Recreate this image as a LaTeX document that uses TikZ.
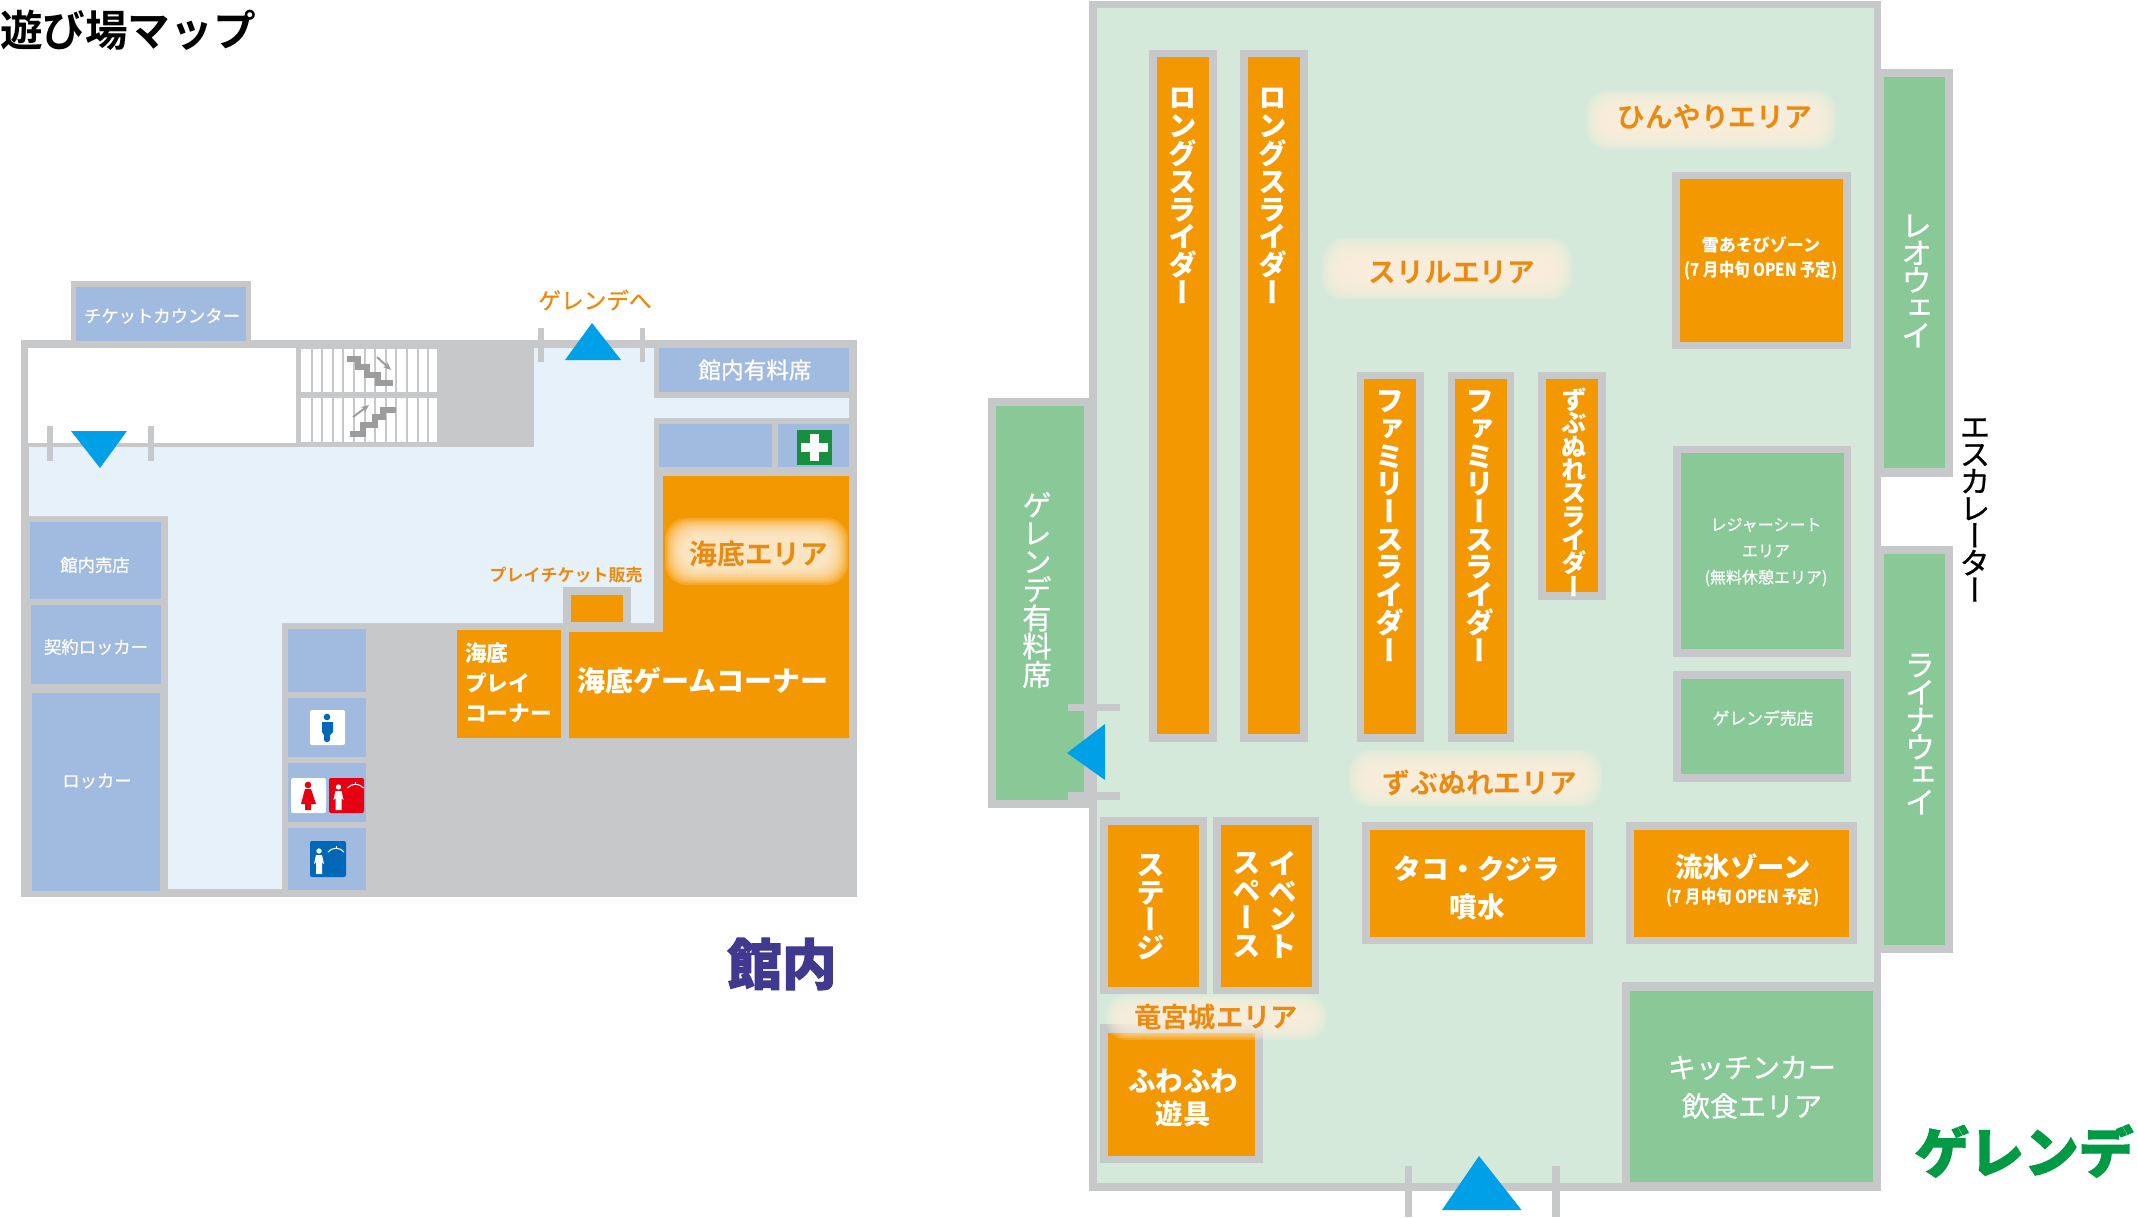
\documentclass[tikz,border=0pt]{standalone}
\usepackage{fontspec}
\newfontfamily\jp[FakeBold=.7]{Noto Sans CJK JP}
\newfontfamily\jpn{Noto Sans CJK JP}
\newfontfamily\jpm{Noto Sans CJK JP Bold}
\newfontfamily\jpv[RawFeature=+vert,FakeBold=.7]{Noto Sans CJK JP}
\newfontfamily\jpvn[RawFeature=+vert]{Noto Sans CJK JP}
\newfontfamily\jph[FakeBold=2]{Noto Sans CJK JP}
\definecolor{wallc}{HTML}{C6C8CA}
\definecolor{floorb}{HTML}{E6F1FA}
\definecolor{floorg}{HTML}{D5E9DA}
\definecolor{roomb}{HTML}{A1BAE0}
\definecolor{roomg}{HTML}{89C997}
\definecolor{orng}{HTML}{F39800}
\definecolor{tri}{HTML}{00A0E9}
\definecolor{lab}{HTML}{EB8A10}
\definecolor{glowc}{HTML}{FFF1DC}
\definecolor{stairc}{HTML}{9C9C9C}
\definecolor{manc}{HTML}{0068B7}
\definecolor{womc}{HTML}{E60012}
\definecolor{crossc}{HTML}{178F3F}
\definecolor{kannai}{HTML}{3F3A8F}
\definecolor{gerende}{HTML}{009944}
\newcommand\fsz[1]{\fontsize{#1}{#1}\selectfont\lineskiplimit=-100pt\relax}
\newcommand\vsz[2]{\fontsize{#1}{#2}\selectfont\lineskiplimit=-100pt\relax}
\tikzset{
  wl/.style={fill=wallc},
  br/.style={fill=roomb},
  gr/.style={fill=roomg},
  og/.style={fill=orng},
  tn/.style={inner sep=0pt,outer sep=0pt,align=center},
  wr/.style={tn,white,font=\jp\fsz{#1}},
  wb/.style={tn,white,font=\jpn\bfseries\fsz{#1}},
  ob/.style={tn,lab,font=\jpm\fsz{#1}},
  or/.style={tn,lab,font=\jp\fsz{#1}},
  vb/.style={tn,white,font=\jpvn\bfseries\vsz{21.5}{#1}},
  tick/.style={fill=wallc},
  arrowhead/.style={fill=tri},
  stairline/.style={draw=stairc,line width=3.8pt,line join=miter},
  stairarrow/.style={draw=stairc,line width=1.5pt,-{Stealth[length=6pt,width=5pt]}},
}
\usetikzlibrary{arrows.meta}
\newcommand\glowbox[4]{%
  \foreach \i in {0,...,11}{%
    \pgfmathsetmacro\ins{\i*1.6}%
    \fill[glowc,opacity=.17,rounded corners=16pt] (#1+\ins,#2+\ins) rectangle (#3-\ins,#4-\ins);%
  }}
\newcommand\persona[2]{% white figure with hanger: centre x, head y
  \fill[white] (#1,#2) circle (2pt);
  \fill[white] (#1-5,#2+13) -- (#1-3,#2+4) -- (#1+3,#2+4) -- (#1+5,#2+13) -- (#1+3,#2+11) -- (#1+3,#2+23) -- (#1-3,#2+23) -- (#1-3,#2+11) -- cycle;
  \draw[white,line width=.8pt] (#1+9,#2+1) .. controls (#1+13,#2-4) and (#1+21,#2-4) .. (#1+25,#2+1);
  \draw[white,line width=.7pt] (#1+17,#2-3) -- (#1+17,#2-5);
}
\begin{document}
\begin{tikzpicture}[x=0.75pt,y=-0.75pt]
\useasboundingbox (0,0) rectangle (2137,1217);
\fill[white] (0,0) rectangle (2137,1217);

% ---------- 館内 ----------
\fill[wl] (21,340) rectangle (857,897);
\fill[wl] (71,281) rectangle (251,340);
\fill[br] (76,287) rectangle (246,341);
\fill[floorb] (29,447) -- (534,447) -- (534,348) -- (654,348) -- (654,398) -- (849,398) -- (849,418) -- (654,418) -- (654,623) -- (282,623) -- (282,889) -- (168,889) -- (168,516) -- (29,516) -- cycle;
\fill[white] (28,348) rectangle (296,443);
% stairs
\fill[white] (301,349) rectangle (437,392);
\fill[white] (301,398) rectangle (437,442);
\foreach \k in {0,...,11}{
  \fill[wl] (310.5+\k*10.6,349) rectangle (312.5+\k*10.6,392);
  \fill[wl] (310.5+\k*10.6,398) rectangle (312.5+\k*10.6,442);
}
\draw[stairline] (347,359) -- (358,359) -- (358,367) -- (367,367) -- (367,375) -- (378,375) -- (378,383) -- (393,383);
\draw[stairarrow] (377,357) -- (391,370);
\draw[stairline] (350,434) -- (363,434) -- (363,425) -- (375,425) -- (375,417) -- (383,417) -- (383,410) -- (396,410);
\draw[stairarrow] (353,417) -- (369,405);
% doors
\fill[tick] (47,426) rectangle (53,461);
\fill[tick] (148,426) rectangle (154,461);
\fill[arrowhead] (71,431) -- (127,431) -- (100,468) -- cycle;
\fill[tick] (538,328) rectangle (544,362);
\fill[tick] (640,328) rectangle (645,362);
\fill[arrowhead] (565,360) -- (621,360) -- (592,323) -- cycle;
% right rooms
\fill[br] (659,348) rectangle (849,392);
\fill[br] (659,424) rectangle (772,467);
\fill[br] (778,424) rectangle (849,467);
\fill[crossc] (797,430) rectangle (832,465);
\fill[white] (810,434) rectangle (819,461);
\fill[white] (801,443) rectangle (828,452);
% left rooms
\fill[br] (30,522) rectangle (161,599);
\fill[br] (30.5,605) rectangle (161,684);
\fill[br] (32,693) rectangle (160,891);
% wc column
\fill[br] (288,629) rectangle (366,692);
\fill[br] (288,698) rectangle (366,757);
\fill[br] (288,763) rectangle (366,822);
\fill[br] (288,828) rectangle (366,890);
\fill[white,rounded corners=1.5pt] (310,710) rectangle (345,745);
\fill[manc] (327,717) circle (2.5pt);
\fill[manc] (322,722) -- (333,722) -- (333,732) -- (330,735) -- (330,740) -- (328,742) -- (326,742) -- (324,740) -- (324,735) -- (322,732) -- cycle;
\fill[white,rounded corners=1.5pt] (291,778) rectangle (326,813);
\fill[womc] (308,785) circle (2.5pt);
\fill[womc] (305,789) -- (311,789) -- (316,804) -- (311,804) -- (311,810) -- (305,810) -- (305,804) -- (301,804) -- cycle;
\fill[womc,rounded corners=1.5pt] (329,778) rectangle (364,813);
\persona{338.5}{787}
\fill[manc,rounded corners=1.5pt] (310,841) rectangle (346,877);
\persona{319}{851}
% orange
\fill[og] (663,476) -- (849,476) -- (849,738) -- (569,738) -- (569,632) -- (663,632) -- cycle;
\fill[og] (457,630) rectangle (561,738);
\fill[wl] (563,587) rectangle (631,624);
\fill[og] (571,595) rectangle (623,622);
\glowbox{665}{518}{848}{585}

\node[tn,black,font=\jpm\fsz{32},anchor=west] (title) at (0,30) {遊び場マップ};
\node[wr=13] (ticket) at (162,316) {チケットカウンター};
\node[or=17] (togerende) at (595,300) {ゲレンデへ};
\node[wr=17] (paid1) at (755,370) {館内有料席};
\node[wr=13] (shop1) at (95,565) {館内売店};
\node[wr=13] (clocker) at (96,647) {契約ロッカー};
\node[wr=13] (locker) at (97,781) {ロッカー};
\node[ob=12.75] (playticket) at (566,575) {プレイチケット販売};
\node[ob=20.8] (kaitei) at (759,554) {海底エリア};
\node[wb=21,anchor=west] (gamecorner) at (577,681) {海底ゲームコーナー};
\node[wb=16.3,anchor=west] (play1) at (465,653) {海底};
\node[wb=16.3,anchor=west] (play2) at (465,683) {プレイ};
\node[wb=16.3,anchor=west] (play3) at (465,714) {コーナー};
\node[tn,kannai,font=\jph\bfseries\fsz{41}] (kannaitext) at (782,964) {館内};

% ---------- ゲレンデ ----------
\fill[wl] (1089,1) rectangle (1881,1191);
\fill[floorg] (1097,8) rectangle (1874,1183);
\fill[wl] (988,398) rectangle (1097,808);
\fill[gr] (996,406) rectangle (1084,800);
\fill[wl] (1881,69) rectangle (1953,477);
\fill[gr] (1884,77) rectangle (1945,468);
\fill[wl] (1881,546) rectangle (1953,953);
\fill[gr] (1884,554) rectangle (1945,945);
% doors
\fill[tick] (1068,703.5) rectangle (1120,711);
\fill[tick] (1068,792) rectangle (1120,800);
\fill[arrowhead] (1067,753) -- (1105,724) -- (1105,780) -- cycle;
\fill[tick] (1405,1166) rectangle (1412,1217);
\fill[tick] (1552,1166) rectangle (1560,1217);
\fill[arrowhead] (1442,1210) -- (1521.5,1210) -- (1479,1156) -- cycle;
% sliders
\fill[wl] (1149,50) rectangle (1217,742);
\fill[og] (1157,57) rectangle (1209,734);
\fill[wl] (1240,50) rectangle (1308,742);
\fill[og] (1248,57) rectangle (1300,734);
\fill[wl] (1357,372) rectangle (1424,742);
\fill[og] (1364,379) rectangle (1416,734);
\fill[wl] (1447.5,372) rectangle (1514,742);
\fill[og] (1455,379) rectangle (1507,734);
\fill[wl] (1538,372) rectangle (1606,600);
\fill[og] (1546,379) rectangle (1598,592);
% right blocks
\fill[wl] (1672,172) rectangle (1851,349);
\fill[og] (1680,179) rectangle (1843,342);
\fill[wl] (1673,446) rectangle (1851,657);
\fill[gr] (1681,453) rectangle (1844,649);
\fill[wl] (1673,671) rectangle (1851,782);
\fill[gr] (1681,679) rectangle (1844,774);
\fill[wl] (1362,822) rectangle (1593,944);
\fill[og] (1370,830) rectangle (1585,937);
\fill[wl] (1626,822) rectangle (1857,944);
\fill[og] (1634,830) rectangle (1849,937);
\fill[wl] (1622,982) rectangle (1881,1191);
\fill[gr] (1630,991) rectangle (1873,1182);
% lower left
\fill[wl] (1100,817) rectangle (1207,994);
\fill[og] (1108,825) rectangle (1199,987);
\fill[wl] (1213,817) rectangle (1319,994);
\fill[og] (1221,825) rectangle (1312,987);
\fill[wl] (1100,1024) rectangle (1263,1163);
\fill[og] (1108,1033) rectangle (1255,1156);
% glows
\glowbox{1586}{90}{1836}{150}
\glowbox{1322}{238}{1572}{300}
\glowbox{1349}{750}{1602}{807}
\glowbox{1105}{994}{1327}{1040}

\node[vb=20.9] (long1) at (1183,196) {ロ\\ン\\グ\\ス\\ラ\\イ\\ダ\\ー};
\node[vb=20.9] (long2) at (1273,196) {ロ\\ン\\グ\\ス\\ラ\\イ\\ダ\\ー};
\node[vb=20.8] (fam1) at (1389.5,526) {フ\\ァ\\ミ\\リ\\ー\\ス\\ラ\\イ\\ダ\\ー};
\node[vb=20.8] (fam2) at (1480,526) {フ\\ァ\\ミ\\リ\\ー\\ス\\ラ\\イ\\ダ\\ー};
\node[tn,white,font=\jpvn\bfseries\vsz{19}{17.5}] (zubu) at (1574,492) {ず\\ぶ\\ぬ\\れ\\ス\\ラ\\イ\\ダ\\ー};
\node[tn,white,font=\jpv\vsz{23}{20.6}] (leo) at (1916.5,281) {レ\\オ\\ウ\\ェ\\イ};
\node[tn,white,font=\jpv\vsz{23}{20.6}] (raina) at (1920,734) {ラ\\イ\\ナ\\ウ\\ェ\\イ};
\node[tn,black,font=\jpv\vsz{23}{20.4}] (esc) at (1975,510) {エ\\ス\\カ\\レ\\ー\\タ\\ー};
\node[tn,white,font=\jpv\vsz{22}{21.2}] (gpaid) at (1037,590) {ゲ\\レ\\ン\\デ\\有\\料\\席};
\node[vb=20.6] (stage) at (1151,907) {ス\\テ\\ー\\ジ};
\node[vb=20.6] (event1) at (1283,905) {イ\\ベ\\ン\\ト};
\node[vb=20.6] (event2) at (1247,905) {ス\\ペ\\ー\\ス};

\node[ob=20.8] (hinyari) at (1715,117) {ひんやりエリア};
\node[ob=20.8] (thrill) at (1452,273) {スリルエリア};
\node[ob=20.8] (zubunure) at (1480,783) {ずぶぬれエリア};
\node[ob=20.5] (ryugu) at (1216,1017) {竜宮城エリア};

\node[wb=12.75] (snow1) at (1761,245) {雪あそびゾーン};
\node[wb=13.5] (snow2) at (1761,271) {\scalebox{.85}[1]{(7 月中旬 OPEN 予定)}};
\node[wr=12] (leis1) at (1766,525) {レジャーシート};
\node[wr=12] (leis2) at (1766,551) {エリア};
\node[wr=12] (leis3) at (1766,578) {(無料休憩エリア)};
\node[wr=12.6] (gshop) at (1763,718) {ゲレンデ売店};
\node[wb=20.8] (tako1) at (1477,869) {タコ・クジラ};
\node[wb=20.8] (tako2) at (1477,907) {噴水};
\node[wb=20.5] (ryu1) at (1743,867) {流氷ゾーン};
\node[wb=13.5] (ryu2) at (1743,898) {\scalebox{.85}[1]{(7 月中旬 OPEN 予定)}};
\node[wb=20.6] (fuwa1) at (1183,1081) {ふわふわ};
\node[wb=20.6] (fuwa2) at (1183,1114) {遊具};
\node[wr=21] (kit1) at (1752,1068) {キッチンカー};
\node[wr=21] (kit2) at (1752,1106) {飲食エリア};
\node[tn,gerende,font=\jph\bfseries\fsz{41}] (gtext) at (2024,1151) {ゲレンデ};
\end{tikzpicture}
\end{document}
